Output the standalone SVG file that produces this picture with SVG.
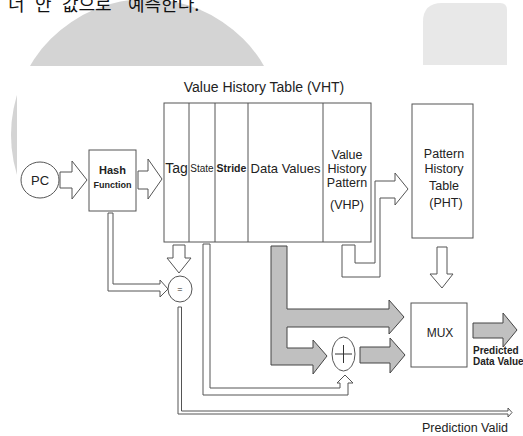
<svg xmlns="http://www.w3.org/2000/svg" width="523" height="436" viewBox="0 0 523 436">
<style>
text{font-family:"Liberation Sans",Arial,sans-serif;fill:#222}
.ko{font-family:"Noto Sans CJK KR","Noto Sans",sans-serif;font-size:18px;fill:#111}
.box{fill:#fff;stroke:#555;stroke-width:1}
.hol{fill:#fff;stroke:#555;stroke-width:1;stroke-linejoin:miter}
.gry{fill:#c0c0c0;stroke:#444;stroke-width:1}
.m{text-anchor:middle}
.b{font-weight:bold}
</style>
<rect width="523" height="436" fill="#fff"/>
<g id="background">
<circle cx="147" cy="135" r="136" fill="#d4d4d4"/>
<path d="M423 65 V22 Q423 3 442 3 H500 Q507 3 507 10 V65 Z" fill="#e8e8e8"/>
<rect x="17" y="66" width="506" height="370" fill="#fff"/>
</g>
<text class="ko" y="11"><tspan x="8">너</tspan><tspan x="35">안</tspan><tspan x="62">값으로</tspan><tspan x="128">예측한다.</tspan></text>

<g id="connectors">
<polygon class="hol" points="60,172 72,172 72,161 87,180 72,199 72,188 60,188"/>
<polygon class="hol" points="138,171 148,171 148,159 162,179 148,199 148,189 138,189"/>
<polygon class="hol" points="173,245 185,245 185,258 191,258 179,273 167,258 173,258"/>
<polygon class="hol" points="108,213 113,213 113,284 160,284 160,280 168,289 160,297 160,291 108,291"/>
<polygon class="hol" points="203,244 210,244 210,388 340,388 340,383 337,383 345,375 353,383 348,383 348,395 203,395"/>
<polygon class="hol" points="178,307 181.5,307 181.5,411 508,411 508,408 512,412.5 508,417 508,414 178,414"/>
<polygon class="hol" points="342,245 355,245 355,263 375,263 375,181 395,181 395,173 408,189 395,205 395,198 380,198 380,277 342,277"/>
<polygon class="hol" points="437,247 447,247 447,274 453,274 442,288 430,274 437,274"/>
<polygon class="gry" points="271,246 287,246 287,309 389,309 389,300 404,317 389,334 389,327 287,327 287,348 313,348 313,340 327,356 313,374 313,365 271,365"/>
<polygon class="gry" points="360,347 390,347 390,338 405,355 390,373 390,363 360,363"/>
<polygon class="gry" points="473,323 503,323 503,313 517,330 503,347 503,338 473,338"/>
</g>

<g id="pc">
<ellipse cx="40" cy="180" rx="19" ry="18" class="box"/>
<text x="40" y="185" class="m" font-size="13">PC</text>
</g>
<g id="hash">
<rect x="89" y="150" width="47" height="61" class="box"/>
<text x="112.5" y="174" class="m b" font-size="11">Hash</text>
<text x="112.5" y="188" class="m b" font-size="9">Function</text>
</g>
<g id="vht">
<text x="264" y="92" class="m" font-size="14">Value History Table (VHT)</text>
<rect x="164" y="103" width="207" height="139" class="box"/>
<path d="M189 103V242M215 103V242M248 103V242M323 103V242" stroke="#555" fill="none"/>
<text x="176.5" y="173" class="m" font-size="14">Tag</text>
<text x="202" y="172" class="m" font-size="10">State</text>
<text x="231.5" y="172" class="m b" font-size="10.5">Stride</text>
<text x="285.5" y="173" class="m" font-size="13">Data Values</text>
<text x="347" y="159" class="m" font-size="12.5">Value</text>
<text x="347" y="173" class="m" font-size="12.5">History</text>
<text x="347" y="187" class="m" font-size="12.5">Pattern</text>
<text x="347" y="209" class="m" font-size="12.5">(VHP)</text>
</g>
<g id="pht">
<rect x="412" y="104" width="61" height="134" class="box"/>
<text x="444" y="158" class="m" font-size="12.5">Pattern</text>
<text x="444" y="173" class="m" font-size="12.5">History</text>
<text x="444" y="190" class="m" font-size="12.5">Table</text>
<text x="446" y="207" class="m" font-size="12.5">(PHT)</text>
</g>
<g id="eq">
<ellipse cx="180" cy="289" rx="12" ry="13" class="box"/>
<text x="180" y="292" class="m" font-size="9">=</text>
</g>
<g id="plus">
<ellipse cx="343.5" cy="354" rx="11.5" ry="17" class="box"/>
<path d="M335 354H352M343.5 345V363" stroke="#333" fill="none"/>
</g>
<g id="mux">
<rect x="411" y="303" width="56" height="64" class="box"/>
<text x="440" y="337" class="m" font-size="12">MUX</text>
</g>
<g id="labels">
<text x="473" y="354" class="b" font-size="10">Predicted</text>
<text x="473" y="365" class="b" font-size="10">Data Value</text>
<text x="422" y="432" font-size="12.5">Prediction Valid</text>
</g>
</svg>
